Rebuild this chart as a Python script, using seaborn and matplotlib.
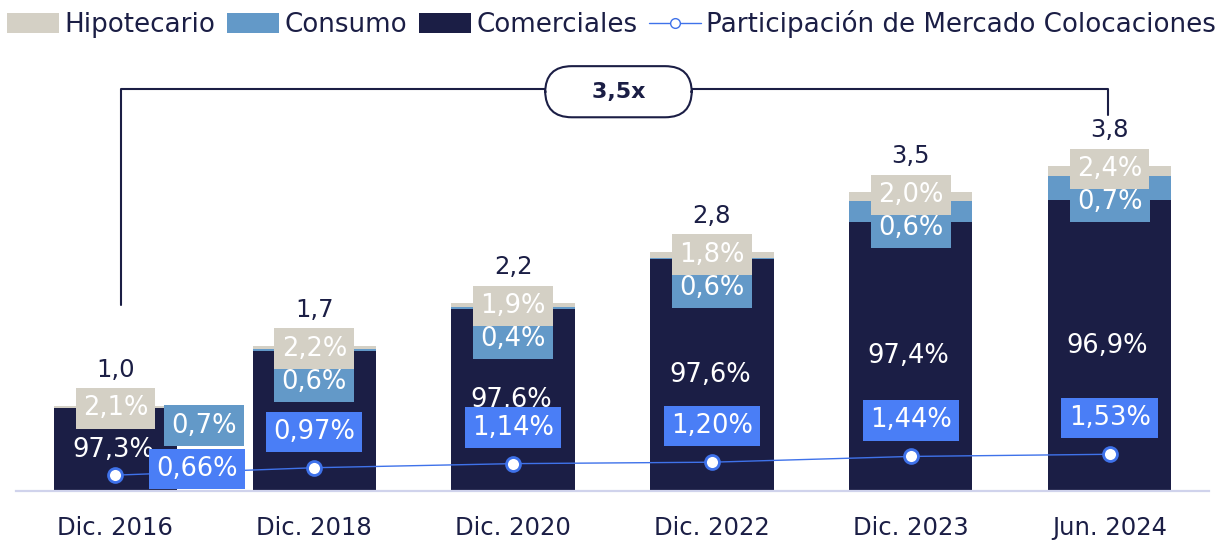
import matplotlib
matplotlib.use("Agg")
import matplotlib.pyplot as plt
from matplotlib.patches import Patch
from matplotlib.lines import Line2D
import numpy as np
import pandas as pd
import seaborn as sns

# Data
periods = ["Dic. 2016", "Dic. 2018", "Dic. 2020", "Dic. 2022", "Dic. 2023", "Jun. 2024"]
totals = [1.0, 1.7, 2.2, 2.8, 3.5, 3.8]
# segment heights as drawn (same units as totals)
seg_comerciales = [0.965, 1.64, 2.125, 2.71, 3.15, 3.40]
seg_consumo = [0.01, 0.015, 0.025, 0.02, 0.24, 0.28]
seg_hipotecario = [0.025, 0.045, 0.05, 0.07, 0.11, 0.12]
# percentage labels
pct_comerciales = [97.3, None, 97.6, 97.6, 97.4, 96.9]
pct_consumo = [0.7, 0.6, 0.4, 0.6, 0.6, 0.7]
pct_hipotecario = [2.1, 2.2, 1.9, 1.8, 2.0, 2.4]
market_share = [0.66, 0.97, 1.14, 1.20, 1.44, 1.53]
growth_label = "3,5x"

# Colours
NAVY = "#1b1e45"
CONSUMO = "#6399c8"
HIPOTEC = "#d4d0c5"
MS_BOX = "#4a7ef6"
MS_LINE = "#3f72ea"
AXIS = "#d0d3ec"


def fmt(v, nd=1):
    return f"{v:.{nd}f}".replace(".", ",")


sns.set_style("white")
plt.rcParams["font.family"] = ["DejaVu Sans"]

fig = plt.figure(figsize=(12.23, 5.41), dpi=100)
ax = fig.add_axes([16 / 1223, 50 / 541, (1209 - 16) / 1223, (491 - 50) / 541])

df = pd.DataFrame({
    "period": periods,
    "com": seg_comerciales,
    "cons": seg_consumo,
    "hip": seg_hipotecario,
})
df["lvl_cons"] = df["com"] + df["cons"]
df["lvl_hip"] = df["lvl_cons"] + df["hip"]

# stacked bars drawn back to front
for col, color in [("lvl_hip", HIPOTEC), ("lvl_cons", CONSUMO), ("com", NAVY)]:
    sns.barplot(data=df, x="period", y=col, order=periods, color=color,
                width=0.62, linewidth=0, saturation=1, ax=ax)

ax.set_xlim(-0.5, 5.5)
ax.set_ylim(0, 441 / 85.5)
ax.set_xlabel("")
ax.set_ylabel("")
ax.set_yticks([])
for s in ["top", "right", "left"]:
    ax.spines[s].set_visible(False)
ax.spines["bottom"].set_color(AXIS)
ax.spines["bottom"].set_linewidth(1.6)
ax.tick_params(axis="x", length=0, pad=18, labelsize=17.5, labelcolor=NAVY)

lbl = dict(ha="center", va="center", fontsize=17.5, textcoords="offset pixels")
box = dict(ha="center", va="center", fontsize=18.5, textcoords="offset pixels", color="white")
for i in range(len(periods)):
    top = df["lvl_hip"][i]
    ax.annotate(fmt(totals[i]), xy=(i, top), xytext=(0, 36), color=NAVY, **lbl)
    ax.annotate(fmt(pct_hipotecario[i]) + "%", xy=(i, top), xytext=(0, -3),
                bbox=dict(boxstyle="square,pad=0.28", fc=HIPOTEC, ec="none"), zorder=6, **box)
    if i == 0:
        off = (89, -20)
    else:
        off = (0, -36)
    ax.annotate(fmt(pct_consumo[i]) + "%", xy=(i, top), xytext=off,
                bbox=dict(boxstyle="square,pad=0.28", fc=CONSUMO, ec="none"), zorder=5, **box)
    if pct_comerciales[i] is not None:
        ax.annotate(fmt(pct_comerciales[i]) + "%", xy=(i, seg_comerciales[i] / 2), xytext=(-2, 0),
                    color="white", zorder=4, **{k: v for k, v in box.items() if k != "color"})

# growth bracket
bx0, bx1 = 0.03, 4.99
ax.plot([bx0, bx0, bx1, bx1], [2.18, 4.70, 4.70, 4.40], color=NAVY, lw=1.5,
        clip_on=False, zorder=3)
ax.text(2.53, 4.67, "    " + growth_label + "    ", ha="center", va="center",
        fontsize=16, fontweight="bold", color=NAVY, zorder=7,
        bbox=dict(boxstyle="round,pad=0.7,rounding_size=1.2", fc="white", ec=NAVY, lw=1.5))

# market share line on secondary axis
ax2 = ax.twinx()
sns.lineplot(x=np.arange(len(periods)), y=market_share, ax=ax2, color=MS_LINE, lw=1,
             marker="o", markersize=10, markerfacecolor="white",
             markeredgecolor=MS_LINE, markeredgewidth=2)
ax2.set_ylim(0, 441 / 24)
ax2.set_xlim(-0.5, 5.5)
ax2.set_yticks([])
for s in ax2.spines.values():
    s.set_visible(False)
for i, v in enumerate(market_share):
    off = (82, 6) if i == 0 else (0, 36)
    ax2.annotate(fmt(v, 2) + "%", xy=(i, v), xytext=off, zorder=5,
                 bbox=dict(boxstyle="square,pad=0.28", fc=MS_BOX, ec="none"), **box)

# legend
handles = [
    Patch(fc=HIPOTEC, ec="none", label="Hipotecario"),
    Patch(fc=CONSUMO, ec="none", label="Consumo"),
    Patch(fc=NAVY, ec="none", label="Comerciales"),
    Line2D([0], [0], color=MS_LINE, lw=1, marker="o", markersize=7, markerfacecolor="white",
           markeredgecolor=MS_LINE, label="Participación de Mercado Colocaciones"),
]
fig.legend(handles=handles, loc="upper center", bbox_to_anchor=(0.5, 1.01), ncol=4,
           frameon=False, fontsize=18.8, labelcolor=NAVY, handlelength=2.0,
           handleheight=0.8, handletextpad=0.2, columnspacing=0.45, borderaxespad=0.2)

fig.savefig("out.png", dpi=100)
